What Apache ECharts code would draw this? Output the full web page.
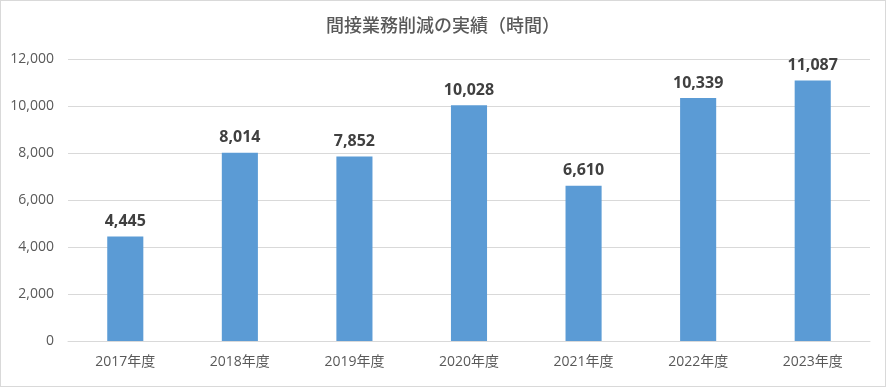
<!DOCTYPE html>
<html><head><meta charset="utf-8">
<script src="https://cdn.jsdelivr.net/npm/echarts@6/dist/echarts.min.js"></script>
<style>
html,body{margin:0;padding:0;background:#fff;}
#c{width:886px;height:387px;box-sizing:border-box;border:1px solid #d9d9d9;}
</style></head>
<body><div id="c"></div>
<script>
const titleText = '間接業務削減の実績（時間）';
const categories = ['2017年度','2018年度','2019年度','2020年度','2021年度','2022年度','2023年度'];
const values = [4445, 8014, 7852, 10028, 6610, 10339, 11087];
const yTicks = {min: 0, max: 12000, interval: 2000};

const font = "'Open Sans', 'Noto Sans CJK JP', sans-serif";
const chart = echarts.init(document.getElementById('c'), null, {renderer: 'canvas'});
chart.setOption({
  animation: false,
  title: {
    text: titleText, left: 'center', top: 10,
    textStyle: {fontFamily: "'Noto Sans CJK JP', sans-serif", fontSize: 18, fontWeight: 500, color: '#595959'}
  },
  grid: {left: 67, right: 15, top: 58, bottom: 45, containLabel: false},
  xAxis: {
    type: 'category', data: categories,
    axisLine: {show: true, lineStyle: {color: '#d9d9d9'}},
    axisTick: {show: false},
    axisLabel: {color: '#595959', fontSize: 14, fontFamily: font, margin: 14}
  },
  yAxis: {
    type: 'value', min: yTicks.min, max: yTicks.max, interval: yTicks.interval,
    axisLine: {show: false}, axisTick: {show: false},
    splitLine: {lineStyle: {color: '#d9d9d9'}},
    axisLabel: {color: '#595959', fontSize: 14, fontFamily: font, margin: 14,
      formatter: v => v.toLocaleString('en-US')}
  },
  series: [{
    type: 'bar', data: values, barWidth: '31.5%',
    itemStyle: {color: '#5b9bd5'},
    label: {show: true, position: 'top', distance: 7, color: '#404040', fontSize: 16, fontWeight: 'bold',
      fontFamily: font, formatter: p => p.value.toLocaleString('en-US')}
  }]
});
</script></body></html>
